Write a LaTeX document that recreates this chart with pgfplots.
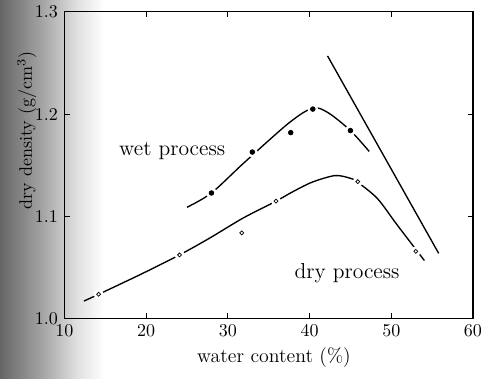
\documentclass[border=0pt]{standalone}
\usepackage{pgfplots}
\pgfplotsset{compat=1.18}
\pgfdeclarehorizontalshading{scanshade}{100bp}{color(0bp)=(black!60); color(25bp)=(black!60); color(45bp)=(black!36); color(62bp)=(black!12); color(75bp)=(white); color(100bp)=(white)}
\begin{document}
\begin{tikzpicture}
\shade[shading=scanshade] (-35.75pt,-33pt) rectangle (22pt,177.1pt);
\path (-35.75pt,-33pt) rectangle (232.65pt,177.1pt);
\begin{axis}[
  scale only axis, width=227pt, height=170.5pt,
  xmin=10, xmax=60, ymin=1.0, ymax=1.3,
  xtick={10,20,30,40,50,60}, ytick={1.0,1.1,1.2,1.3},
  yticklabel style={/pgf/number format/.cd, fixed, fixed zerofill, precision=1},
  tick align=inside, major tick length=3pt,
  tick style={line width=0.6pt, black},
  axis line style={line width=0.6pt},
  xlabel={water content (\%)},
  ylabel={dry density (g/cm$^3$)},
  xlabel style={at={(axis description cs:0.513,-0.126)}, anchor=center, font=\fontsize{11}{13}\selectfont},
  ylabel style={at={(axis description cs:-0.092,0.613)}, anchor=center},
  clip=false,
]
% wet process curve
\addplot[black, line width=0.75pt, smooth] coordinates {
 (25.0,1.109) (28.0,1.123) (32.05,1.153) (37.5,1.1916) (40.4,1.206) (42.3,1.2013) (45.0,1.184) (47.3,1.1636)};
% dry process curve
\addplot[black, line width=0.75pt, smooth] coordinates {
 (12.4,1.0174) (14.2,1.024) (19.4,1.0437) (24.1,1.0625) (27.8,1.079) (31.85,1.0984) (35.9,1.115) (37.9,1.124) (40.3,1.1335) (43.1,1.140) (44.9,1.1376) (45.8,1.134) (48.3,1.1176) (50.7,1.092) (54.05,1.057)};
% halos
\addplot[only marks, mark=*, mark size=2.8pt, white, mark options={fill=white, draw=white}] coordinates {
 (28.0,1.123) (33.0,1.163) (37.7,1.182) (40.4,1.205) (45.0,1.184)};
\addplot[only marks, mark=*, mark size=2.6pt, white, mark options={fill=white, draw=white}] coordinates {
 (14.2,1.024) (24.1,1.0625) (31.7,1.084) (35.9,1.115) (45.9,1.134) (53.0,1.066)};
% wet process points
\addplot[only marks, mark=*, mark size=1.3pt, black] coordinates {
 (28.0,1.123) (33.0,1.163) (37.7,1.182) (40.4,1.205) (45.0,1.184)};
% dry process points
\addplot[only marks, mark=o, mark size=1.1pt, black, mark options={line width=0.4pt, fill=white}] coordinates {
 (14.2,1.024) (24.1,1.0625) (31.7,1.084) (35.9,1.115) (45.9,1.134) (53.0,1.066)};
% straight line
\addplot[black, line width=0.75pt] coordinates {(42.2,1.257) (55.8,1.064)};
\node[font=\fontsize{12}{14}\selectfont] at (axis cs:23.2,1.164) {wet process};
\node[font=\fontsize{12}{14}\selectfont] at (axis cs:44.6,1.045) {dry process};
\end{axis}
\end{tikzpicture}
\end{document}
